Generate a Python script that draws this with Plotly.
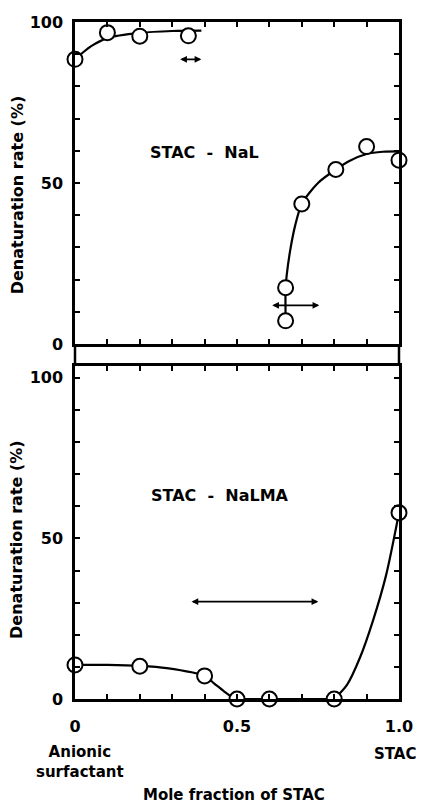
import plotly.graph_objects as go

# ---------------- data ----------------
# Upper panel: STAC - NaL
nal_x = [0, 0.1, 0.2, 0.35, 0.65, 0.65, 0.70, 0.805, 0.90, 1.0]
nal_y = [88.4, 96.7, 95.6, 95.7, 17.5, 7.2, 43.5, 54.2, 61.3, 57.1]
nal_fitA_x = [0, 0.05, 0.1, 0.2, 0.3, 0.39]
nal_fitA_y = [88.4, 92.5, 95.0, 96.6, 97.2, 97.3]
nal_fitB_x = [0.65, 0.65, 0.653, 0.664, 0.68, 0.70, 0.75, 0.805, 0.85, 0.90, 0.95, 1.0]
nal_fitB_y = [7.2, 17.5, 21.0, 29.0, 37.0, 43.5, 50.0, 54.2, 57.0, 59.0, 59.7, 59.8]
nal_arrows_x0 = [0.32, 0.604]
nal_arrows_x1 = [0.39, 0.754]
nal_arrows_y = [88.4, 12.0]

# Lower panel: STAC - NaLMA
lma_x = [0, 0.2, 0.4, 0.5, 0.6, 0.8, 1.0]
lma_y = [10.6, 10.2, 7.2, 0, 0, 0, 58.0]
lma_fitA_x = [0, 0.1, 0.2, 0.283, 0.4, 0.43, 0.46, 0.49, 0.5]
lma_fitA_y = [10.6, 10.6, 10.3, 9.6, 7.2, 4.8, 2.4, 0.3, 0]
lma_flat_x = [0.5, 0.8]
lma_flat_y = [0, 0]
lma_fitB_x = [0.8, 0.84, 0.88, 0.92, 0.96, 1.0]
lma_fitB_y = [0, 4.5, 13.0, 24.5, 38.5, 58.0]
lma_arrows_x0 = [0.355]
lma_arrows_x1 = [0.751]
lma_arrows_y = [30.3]

x_tickvals = [0, 0.1, 0.2, 0.3, 0.4, 0.5, 0.6, 0.7, 0.8, 0.9, 1.0]
x_ticktext = ["0", "", "", "", "", "0.5", "", "", "", "", "1.0"]
y_tickvals = [0, 10, 20, 30, 40, 50, 60, 70, 80, 90, 100]
y_ticktext = ["0", "", "", "", "", "50", "", "", "", "", "100"]

FONT = "DejaVu Sans"
BLACK = "#000000"

fig = go.Figure()

def line_trace(x, y, xa, ya, shape="spline"):
    return go.Scatter(x=x, y=y, xaxis=xa, yaxis=ya, mode="lines",
                      line=dict(color=BLACK, width=2.2, shape=shape, smoothing=0.8),
                      hoverinfo="skip", showlegend=False, cliponaxis=False)

def marker_trace(x, y, xa, ya):
    return go.Scatter(x=x, y=y, xaxis=xa, yaxis=ya, mode="markers",
                      marker=dict(symbol="circle", size=15, color="white",
                                  line=dict(color=BLACK, width=2)),
                      showlegend=False, cliponaxis=False)

# upper panel (x2/y2)
fig.add_trace(line_trace(nal_fitA_x, nal_fitA_y, "x2", "y2"))
fig.add_trace(line_trace(nal_fitB_x, nal_fitB_y, "x2", "y2"))
fig.add_trace(marker_trace(nal_x, nal_y, "x2", "y2"))

# lower panel (x/y)
fig.add_trace(line_trace(lma_fitA_x, lma_fitA_y, "x", "y"))
fig.add_trace(line_trace(lma_flat_x, lma_flat_y, "x", "y", shape="linear"))
fig.add_trace(line_trace(lma_fitB_x, lma_fitB_y, "x", "y"))
fig.add_trace(marker_trace(lma_x, lma_y, "x", "y"))

annotations = []
def add_arrow(x0, x1, y, xr, yr):
    annotations.append(dict(x=x1, y=y, ax=x0, ay=y, xref=xr, yref=yr,
                            axref=xr, ayref=yr, text="", showarrow=True,
                            arrowside="end+start", arrowhead=2, arrowsize=0.75,
                            arrowwidth=1.8, arrowcolor=BLACK, standoff=0,
                            startstandoff=0))

for a, b, c in zip(nal_arrows_x0, nal_arrows_x1, nal_arrows_y):
    add_arrow(a, b, c, "x2", "y2")
for a, b, c in zip(lma_arrows_x0, lma_arrows_x1, lma_arrows_y):
    add_arrow(a, b, c, "x", "y")

def f(size):
    return dict(family=FONT, size=size, color=BLACK, weight="bold")

def note(x, y, text, xr="paper", yr="paper", size=14, angle=0):
    return dict(x=x, y=y, xref=xr, yref=yr, text=text, showarrow=False,
                xanchor="center", yanchor="middle", textangle=angle, font=f(size))

annotations += [
    note(0.40, 59.6, "STAC  -  NaL", "x2", "y2", 16),
    note(0.446, 63.5, "STAC  -  NaLMA", "x", "y", 16),
    note(-0.179, 0.744, "Denaturation rate (%)", size=16, angle=-90),
    note(-0.179, 0.235, "Denaturation rate (%)", size=16, angle=-90),
    note(0.015, -0.0927, "Anionic<br>surfactant", size=15),
    note(0.988, -0.0812, "STAC", size=15),
    note(0.492, -0.1425, "Mole fraction of STAC", size=15),
]

tickfont = f(16)
axis_common = dict(showline=True, linecolor=BLACK, linewidth=2.5, mirror="ticks",
                   ticks="inside", ticklen=5, tickwidth=1.8, tickcolor=BLACK,
                   showgrid=False, zeroline=False, tickfont=tickfont,
                   automargin=False)

top_dom = [(699 - 344) / 677, 1.0]
bot_dom = [0.0, (699 - 366) / 677]

# page body has an 8px default margin, so the figure is drawn 8px smaller
fig.update_layout(
    width=420, height=798,
    margin=dict(l=67, r=29, t=14, b=107, autoexpand=False),
    paper_bgcolor="white", plot_bgcolor="white",
    showlegend=False,
    xaxis=dict(range=[0, 1], domain=[0, 1], anchor="y", tickvals=x_tickvals,
               ticktext=x_ticktext, ticklabelstandoff=11, **axis_common),
    yaxis=dict(range=[0, 103.7], domain=bot_dom, anchor="x", tickvals=y_tickvals,
               ticktext=y_ticktext, ticklabelstandoff=6, **axis_common),
    xaxis2=dict(range=[0, 1], domain=[0, 1], anchor="y2", tickvals=x_tickvals,
                ticktext=x_ticktext, showticklabels=False, **axis_common),
    yaxis2=dict(range=[0, 100], domain=top_dom, anchor="x2", tickvals=y_tickvals,
                ticktext=y_ticktext, ticklabelstandoff=6, **axis_common),
    annotations=annotations,
    shapes=[
        dict(type="line", xref="paper", yref="paper", x0=0, x1=0,
             y0=bot_dom[1], y1=top_dom[0], line=dict(color=BLACK, width=2.5)),
        dict(type="line", xref="paper", yref="paper", x0=1, x1=1,
             y0=bot_dom[1], y1=top_dom[0], line=dict(color=BLACK, width=2.5)),
    ],
)

fig.write_html("out.html")
